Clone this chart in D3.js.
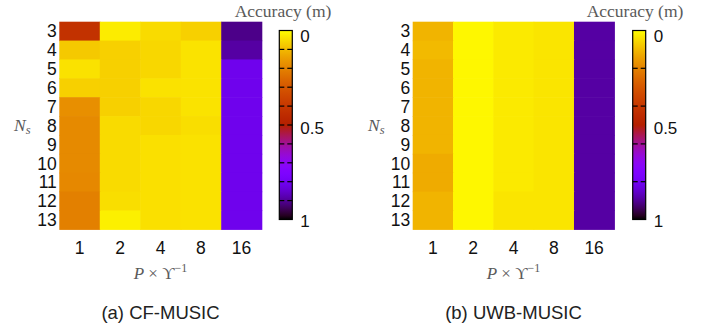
<!DOCTYPE html>
<html>
<head>
<meta charset="utf-8">
<script src="https://cdn.jsdelivr.net/npm/d3@7"></script>
<style>
  html, body { margin: 0; padding: 0; background: #fff; }
  svg { display: block; }
</style>
</head>
<body>
<svg id="chart" width="710" height="331"></svg>
<script>
// Categories
const pLabels = ["1", "2", "4", "8", "16"];
const nsLabels = ["3", "4", "5", "6", "7", "8", "9", "10", "11", "12", "13"];

// Localisation accuracy (m); one row per N_s, columns follow pLabels
const cfMusic = [
  [0.42, 0.025, 0.05, 0.065, 0.91],
  [0.077, 0.065, 0.055, 0.038, 0.89],
  [0.04, 0.065, 0.055, 0.038, 0.81],
  [0.065, 0.065, 0.04, 0.038, 0.81],
  [0.175, 0.065, 0.055, 0.038, 0.81],
  [0.185, 0.05, 0.055, 0.045, 0.81],
  [0.185, 0.05, 0.042, 0.04, 0.81],
  [0.185, 0.05, 0.042, 0.04, 0.81],
  [0.19, 0.05, 0.042, 0.04, 0.81],
  [0.205, 0.045, 0.042, 0.04, 0.81],
  [0.205, 0.02, 0.042, 0.04, 0.81]
];
const uwbMusic = [
  [0.11, 0.01, 0.028, 0.035, 0.89],
  [0.10, 0.01, 0.028, 0.035, 0.89],
  [0.11, 0.01, 0.028, 0.035, 0.89],
  [0.11, 0.01, 0.028, 0.035, 0.89],
  [0.11, 0.01, 0.028, 0.035, 0.89],
  [0.11, 0.01, 0.028, 0.035, 0.89],
  [0.11, 0.01, 0.028, 0.035, 0.89],
  [0.125, 0.01, 0.028, 0.035, 0.89],
  [0.125, 0.01, 0.028, 0.035, 0.89],
  [0.11, 0.01, 0.035, 0.035, 0.89],
  [0.11, 0.01, 0.035, 0.035, 0.89]
];

// Colour bar ticks
const cbLabels = [0, 0.5, 1];
const cbTicksA = [0.1, 0.2, 0.3, 0.4, 0.5, 0.6, 0.7, 0.8, 0.9];
const cbTicksB = [0.2, 0.4, 0.6, 0.8];

// Black -> purple -> red -> yellow palette (r = sqrt(t), g = t^3, b = sin(2*pi*t))
function palette(t) {
  t = Math.max(0, Math.min(1, t));
  const r = Math.sqrt(t), g = t * t * t, b = Math.max(0, Math.sin(2 * Math.PI * t));
  return d3.rgb(r * 255, g * 255, b * 255).formatHex();
}
// accuracy 0 is bright, 1 is black
const color = d3.scaleSequential(palette).domain([1, 0]);

const svg = d3.select("#chart");
const sansFont = "'Liberation Sans', Arial, Helvetica, sans-serif";
const serifFont = "'Liberation Serif', 'DejaVu Serif', serif";
const mathGrey = "#5a5a5a";

const defs = svg.append("defs");
const grad = defs.append("linearGradient")
  .attr("id", "cbGrad").attr("x1", 0).attr("y1", 0).attr("x2", 0).attr("y2", 1);
d3.range(0, 1.0001, 0.02).forEach(v => {
  grad.append("stop").attr("offset", v).attr("stop-color", color(v));
});

function panel(cfg) {
  const g = svg.append("g");
  const x = d3.scaleBand().domain(pLabels).range([cfg.x0, cfg.x1]);
  const y = d3.scaleBand().domain(nsLabels).range([21.7, 229.3]);

  // cells
  cfg.data.forEach((row, i) => {
    g.selectAll(null).data(row).enter().append("rect")
      .attr("x", (d, j) => x(pLabels[j]))
      .attr("y", y(nsLabels[i]))
      .attr("width", x.bandwidth() + 0.6)
      .attr("height", y.bandwidth() + 0.6)
      .attr("fill", d => color(d));
  });

  // y tick labels
  g.selectAll(null).data(nsLabels).enter().append("text")
    .attr("x", cfg.x0 - 2.5)
    .attr("y", d => y(d) + y.bandwidth() / 2)
    .attr("dy", "0.36em")
    .attr("text-anchor", "end")
    .attr("font-family", sansFont).attr("font-size", 17.5).attr("fill", "#111")
    .text(d => d);

  // x tick labels
  g.selectAll(null).data(pLabels).enter().append("text")
    .attr("x", d => x(d) + x.bandwidth() / 2)
    .attr("y", 248)
    .attr("dy", "0.36em")
    .attr("text-anchor", "middle")
    .attr("font-family", sansFont).attr("font-size", 17.5).attr("fill", "#111")
    .text(d => d);

  // y axis title N_s
  const ny = g.append("text")
    .attr("x", cfg.nsX).attr("y", 131)
    .attr("font-family", serifFont).attr("font-size", 17.5).attr("fill", mathGrey);
  ny.append("tspan").attr("font-style", "italic").text("N");
  ny.append("tspan").attr("font-style", "italic").attr("font-size", 12.5).attr("dy", 3).text("s");

  // x axis title P × ϒ^-1
  const cx = (cfg.x0 + cfg.x1) / 2;
  const xt = g.append("text")
    .attr("x", cx).attr("y", 279).attr("text-anchor", "middle")
    .attr("font-family", serifFont).attr("font-size", 17).attr("fill", mathGrey);
  xt.append("tspan").attr("font-style", "italic").text("P");
  xt.append("tspan").text(" × ϒ");
  xt.append("tspan").attr("font-size", 12).attr("dy", -7).text("−1");

  // caption
  g.append("text")
    .attr("x", cx).attr("y", 319).attr("text-anchor", "middle")
    .attr("font-family", sansFont).attr("font-size", 18.5).attr("fill", "#222")
    .text(cfg.caption);

  // colour bar
  const cb = d3.scaleLinear().domain([0, 1]).range([30.5, 219.5]);
  const w = 13;
  g.append("rect")
    .attr("x", cfg.cbX).attr("y", cb(0))
    .attr("width", w).attr("height", cb(1) - cb(0))
    .attr("fill", "url(#cbGrad)")
    .attr("stroke", "#000").attr("stroke-width", 1.2);
  cfg.ticks.forEach(t => {
    g.append("line")
      .attr("x1", cfg.cbX).attr("x2", cfg.cbX + 5)
      .attr("y1", cb(t)).attr("y2", cb(t))
      .attr("stroke", "#000").attr("stroke-width", 1.2);
    g.append("line")
      .attr("x1", cfg.cbX + w - 5).attr("x2", cfg.cbX + w)
      .attr("y1", cb(t)).attr("y2", cb(t))
      .attr("stroke", "#000").attr("stroke-width", 1.2);
  });
  g.selectAll(null).data(cbLabels).enter().append("text")
    .attr("x", cfg.cbX + w + 8)
    .attr("y", d => cb(d) + 5 - 4 * d)
    .attr("dy", "0.36em")
    .attr("font-family", sansFont).attr("font-size", 17).attr("fill", "#111")
    .text(d => d);

  // colour bar title
  g.append("text")
    .attr("x", cfg.titleX).attr("y", 17).attr("text-anchor", "middle")
    .attr("font-family", serifFont).attr("font-size", 17.5).attr("fill", mathGrey)
    .text("Accuracy (m)");
}

panel({ data: cfMusic, x0: 59.3, x1: 261.7, cbX: 279.3, ticks: cbTicksA,
        nsX: 14, titleX: 283, caption: "(a) CF-MUSIC" });
panel({ data: uwbMusic, x0: 412.7, x1: 614.3, cbX: 632.7, ticks: cbTicksB,
        nsX: 368, titleX: 635, caption: "(b) UWB-MUSIC" });
</script>
</body>
</html>
